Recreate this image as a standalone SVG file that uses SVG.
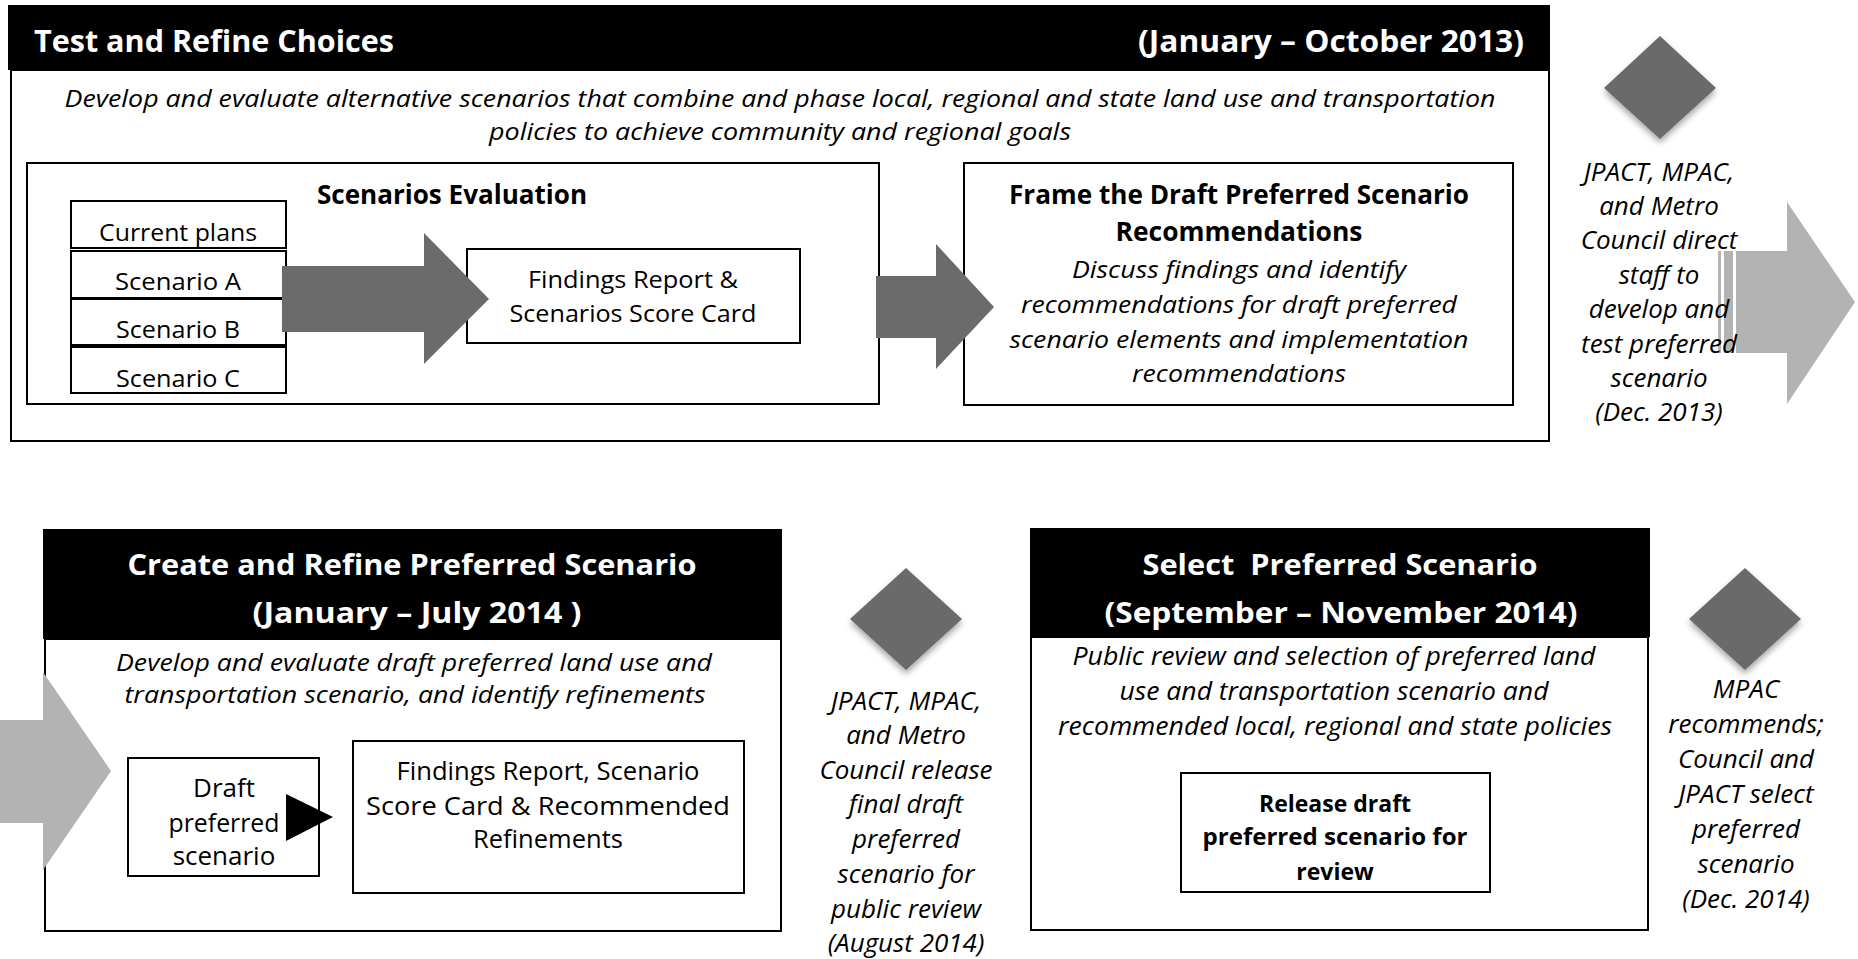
<svg xmlns="http://www.w3.org/2000/svg" width="1858" height="959" viewBox="0 0 1858 959">
<defs>
<style>
.box{fill:#fff;stroke:#000;stroke-width:2}
.hdr{fill:#000}
.dk{fill:#6b6b6b}
.lt{fill:#b3b3b3}
text{font-family:"Open Sans","Liberation Sans",sans-serif}
.ht{font-weight:bold;fill:#fff}
.bt{font-weight:bold;fill:#000}
.it{font-style:italic;fill:#000}
.rt{fill:#000}
.c{text-anchor:middle}
.m{font-style:italic;fill:#000;text-anchor:middle;font-size:26px}
</style>
<filter id="sh" x="-40%" y="-40%" width="180%" height="190%">
<feDropShadow dx="0" dy="4" stdDeviation="3" flood-color="#000" flood-opacity="0.35"/>
</filter>
</defs>
<rect width="1858" height="959" fill="#fff"/>

<g id="test-refine">
<rect class="box" x="11" y="70" width="1538" height="371"/>
<rect class="hdr" x="8" y="5" width="1542" height="65"/>
<text class="ht" x="34" y="52" font-size="30" textLength="360" lengthAdjust="spacingAndGlyphs">Test and Refine Choices</text>
<text class="ht" x="1138" y="52" font-size="30" textLength="386" lengthAdjust="spacingAndGlyphs">(January – October 2013)</text>
<text class="it c" x="780" y="107" font-size="23" textLength="1431" lengthAdjust="spacingAndGlyphs">Develop and evaluate alternative scenarios that combine and phase local, regional and state land use and transportation</text>
<text class="it c" x="780" y="140" font-size="23" textLength="582" lengthAdjust="spacingAndGlyphs">policies to achieve community and regional goals</text>
</g>

<g id="scenarios-evaluation">
<rect class="box" x="27" y="163" width="852" height="241"/>
<text class="bt c" x="452" y="204" font-size="26" textLength="270" lengthAdjust="spacingAndGlyphs">Scenarios Evaluation</text>
</g>

<g id="current-plans">
<rect class="box" x="71" y="201" width="215" height="47"/>
<text class="rt c" x="178" y="241" font-size="24" textLength="158" lengthAdjust="spacingAndGlyphs">Current plans</text>
</g>
<g id="scenario-a">
<rect class="box" x="71" y="251" width="215" height="47"/>
<text class="rt c" x="178" y="290" font-size="24" textLength="126" lengthAdjust="spacingAndGlyphs">Scenario A</text>
</g>
<g id="scenario-b">
<rect class="box" x="71" y="299" width="215" height="46"/>
<text class="rt c" x="178" y="338" font-size="24" textLength="124" lengthAdjust="spacingAndGlyphs">Scenario B</text>
</g>
<g id="scenario-c">
<rect class="box" x="71" y="347" width="215" height="46"/>
<text class="rt c" x="178" y="387" font-size="24" textLength="124" lengthAdjust="spacingAndGlyphs">Scenario C</text>
</g>

<g id="findings-top">
<rect class="box" x="467" y="249" width="333" height="94"/>
<text class="rt c" x="633" y="288" font-size="24" textLength="210" lengthAdjust="spacingAndGlyphs">Findings Report &amp;</text>
<text class="rt c" x="633" y="322" font-size="24" textLength="247" lengthAdjust="spacingAndGlyphs">Scenarios Score Card</text>
</g>

<g id="frame-draft">
<rect class="box" x="964" y="163" width="549" height="242"/>
<text class="bt c" x="1239" y="204" font-size="26" textLength="460" lengthAdjust="spacingAndGlyphs">Frame the Draft Preferred Scenario</text>
<text class="bt c" x="1239" y="241" font-size="26" textLength="247" lengthAdjust="spacingAndGlyphs">Recommendations</text>
<text class="it c" x="1239" y="278" font-size="23" textLength="334" lengthAdjust="spacingAndGlyphs">Discuss findings and identify</text>
<text class="it c" x="1239" y="313" font-size="23" textLength="436" lengthAdjust="spacingAndGlyphs">recommendations for draft preferred</text>
<text class="it c" x="1239" y="348" font-size="23" textLength="459" lengthAdjust="spacingAndGlyphs">scenario elements and implementation</text>
<text class="it c" x="1239" y="382" font-size="23" textLength="214" lengthAdjust="spacingAndGlyphs">recommendations</text>
</g>

<g id="create-refine">
<rect class="box" x="45" y="639" width="736" height="292"/>
<rect class="hdr" x="43" y="529" width="739" height="110"/>
<text class="ht c" x="412" y="575" font-size="29" textLength="569" lengthAdjust="spacingAndGlyphs">Create and Refine Preferred Scenario</text>
<text class="ht c" x="417" y="623" font-size="29" textLength="329" lengthAdjust="spacingAndGlyphs">(January – July 2014 )</text>
<text class="it c" x="414" y="671" font-size="23" textLength="596" lengthAdjust="spacingAndGlyphs">Develop and evaluate draft preferred land use and</text>
<text class="it c" x="415" y="703" font-size="23" textLength="581" lengthAdjust="spacingAndGlyphs">transportation scenario, and identify refinements</text>
</g>

<g id="draft-preferred">
<rect class="box" x="128" y="758" width="191" height="118"/>
<text class="rt c" x="224" y="797" font-size="26">Draft</text>
<text class="rt c" x="224" y="832" font-size="26" textLength="111" lengthAdjust="spacingAndGlyphs">preferred</text>
<text class="rt c" x="224" y="865" font-size="26">scenario</text>
</g>

<g id="findings-bottom">
<rect class="box" x="353" y="741" width="391" height="152"/>
<text class="rt c" x="548" y="780" font-size="26" textLength="303" lengthAdjust="spacingAndGlyphs">Findings Report, Scenario</text>
<text class="rt c" x="548" y="815" font-size="26" textLength="364" lengthAdjust="spacingAndGlyphs">Score Card &amp; Recommended</text>
<text class="rt c" x="548" y="848" font-size="26" textLength="150" lengthAdjust="spacingAndGlyphs">Refinements</text>
</g>

<g id="select-preferred">
<rect class="box" x="1031" y="637" width="617" height="293"/>
<rect class="hdr" x="1030" y="528" width="620" height="109"/>
<text class="ht c" x="1340" y="575" font-size="29" textLength="395" lengthAdjust="spacingAndGlyphs" xml:space="preserve">Select  Preferred Scenario</text>
<text class="ht c" x="1341" y="623" font-size="29" textLength="473" lengthAdjust="spacingAndGlyphs">(September – November 2014)</text>
<text class="it c" x="1334" y="665" font-size="25" textLength="523" lengthAdjust="spacingAndGlyphs">Public review and selection of preferred land</text>
<text class="it c" x="1334" y="700" font-size="25" textLength="429" lengthAdjust="spacingAndGlyphs">use and transportation scenario and</text>
<text class="it c" x="1335" y="735" font-size="25" textLength="554" lengthAdjust="spacingAndGlyphs">recommended local, regional and state policies</text>
</g>

<g id="release-draft">
<rect class="box" x="1181" y="773" width="309" height="119"/>
<text class="bt c" x="1335" y="812" font-size="23">Release draft</text>
<text class="bt c" x="1335" y="845" font-size="23" textLength="265" lengthAdjust="spacingAndGlyphs">preferred scenario for</text>
<text class="bt c" x="1335" y="880" font-size="23">review</text>
</g>

<g id="connectors">
<polygon class="dk" points="282,266 424,266 424,233 489,299 424,364 424,332 282,332"/>
<polygon class="dk" points="876,276 936,276 936,244 994,307 936,369 936,338 876,338"/>
<rect class="lt" x="1718" y="251" width="3" height="102"/>
<rect class="lt" x="1724" y="251" width="9" height="102"/>
<polygon class="lt" points="1736,251 1787,251 1787,202 1855,302 1787,404 1787,353 1736,353"/>
<polygon class="lt" points="0,720 43,720 43,672 111,771 43,870 43,823 0,823"/>
<polygon fill="#000" points="286,794 333,817 286,841"/>
</g>

<g id="milestone-dec-2013">
<polygon class="dk" filter="url(#sh)" points="1660,36 1716,88 1660,139 1604,88"/>
<text class="m" x="1659" y="181">JPACT, MPAC,</text>
<text class="m" x="1659" y="215">and Metro</text>
<text class="m" x="1659" y="249">Council direct</text>
<text class="m" x="1659" y="284">staff to</text>
<text class="m" x="1659" y="318">develop and</text>
<text class="m" x="1659" y="353">test preferred</text>
<text class="m" x="1659" y="387">scenario</text>
<text class="m" x="1659" y="421">(Dec. 2013)</text>
</g>

<g id="milestone-aug-2014">
<polygon class="dk" filter="url(#sh)" points="906,568 962,619 906,670 850,619"/>
<text class="m" x="906" y="710">JPACT, MPAC,</text>
<text class="m" x="906" y="744">and Metro</text>
<text class="m" x="906" y="779">Council release</text>
<text class="m" x="906" y="813">final draft</text>
<text class="m" x="906" y="848">preferred</text>
<text class="m" x="906" y="883">scenario for</text>
<text class="m" x="906" y="918">public review</text>
<text class="m" x="906" y="952">(August 2014)</text>
</g>

<g id="milestone-dec-2014">
<polygon class="dk" filter="url(#sh)" points="1745,568 1801,619 1745,670 1689,619"/>
<text class="m" x="1746" y="698">MPAC</text>
<text class="m" x="1746" y="733">recommends;</text>
<text class="m" x="1746" y="768">Council and</text>
<text class="m" x="1746" y="803">JPACT select</text>
<text class="m" x="1746" y="838">preferred</text>
<text class="m" x="1746" y="873">scenario</text>
<text class="m" x="1746" y="908">(Dec. 2014)</text>
</g>
</svg>
